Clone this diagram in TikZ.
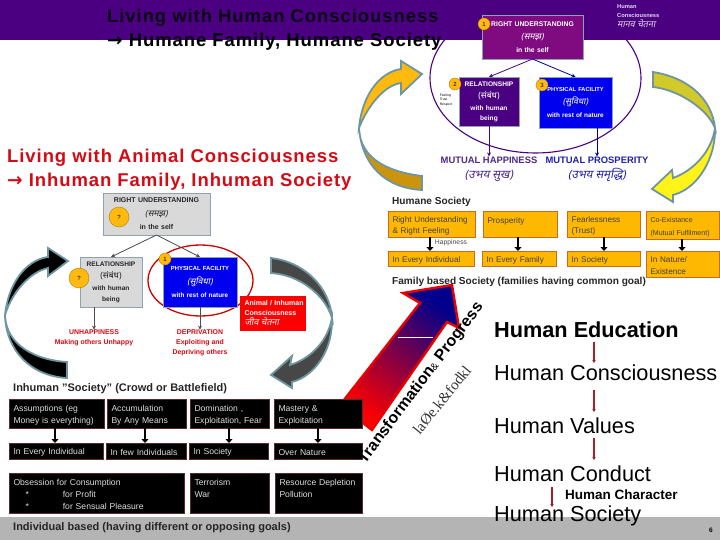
\documentclass[tikz,border=0pt]{standalone}
\usepackage{fontspec}
\setmainfont{Liberation Sans}
\newfontfamily\devafont[Script=Devanagari]{Noto Sans}
\newfontfamily\devaslant[Script=Devanagari,FakeSlant=0.2]{Noto Sans}
\newfontfamily\symfont{DejaVu Sans}
\newfontfamily\serifkr{Liberation Serif}
\usetikzlibrary{arrows.meta,shapes.geometric,calc}
\definecolor{barpurple}{HTML}{4B0082}
\definecolor{rubox}{HTML}{800A80}
\definecolor{physblue}{HTML}{0000EE}
\definecolor{slateedge}{HTML}{6E95A0}
\definecolor{titlered}{HTML}{D40A14}
\definecolor{amber}{HTML}{FFB800}
\definecolor{amberedge}{HTML}{C8682A}
\definecolor{badge}{HTML}{FFB90F}
\definecolor{grayface}{HTML}{D9D9D9}
\definecolor{grayedge}{HTML}{8FA3AE}
\definecolor{bandgray}{HTML}{B4B4B4}
\definecolor{textgray}{HTML}{DDDDDD}
\definecolor{blackedge}{HTML}{5A2A30}
\definecolor{conred}{HTML}{A81C2C}
\definecolor{mhpurple}{HTML}{4B2A8A}
\definecolor{mpblue}{HTML}{2020A8}
\newcommand{\dvs}[1]{{\fontsize{8.6}{11.5}\devaslant #1}}
\newcommand{\dvu}[1]{{\fontsize{8.6}{11.5}\devafont #1}}
\tikzset{
  boxbase/.style={rectangle,draw,line width=.8pt,inner xsep=4.5pt,inner ysep=0pt,outer sep=0pt},
  amberbox/.style={boxbase,fill=amber,draw=amberedge,text=black!75,align=left,font=\fontsize{8.2}{11.5}\selectfont,execute at begin node=\rule{0pt}{9.5pt}},
  blackbox/.style={boxbase,fill=black,draw=blackedge,text=textgray,align=left,font=\fontsize{8.6}{11.8}\selectfont,execute at begin node=\rule{0pt}{9.5pt}},
  colbox/.style={boxbase,draw=grayedge,text=white,align=center,font=\bfseries\fontsize{6.4}{13.2}\selectfont},
  graybox/.style={boxbase,fill=grayface,draw=grayedge,text=black!85,align=center,font=\bfseries\fontsize{6.4}{13.2}\selectfont},
  titletext/.style={anchor=west,inner sep=0pt,font=\bfseries\fontsize{18.5}{22}\selectfont\addfontfeatures{LetterSpace=5}},
  sectitle/.style={anchor=west,inner sep=0pt,font=\bfseries\fontsize{10.1}{12}\selectfont,text=black!85},
  sectitlewide/.style={anchor=west,inner sep=0pt,font=\bfseries\fontsize{11}{13}\selectfont,text=black!85},
  listtext/.style={anchor=west,inner sep=0pt,font=\fontsize{21.7}{26}\selectfont},
  redlabel/.style={inner sep=0pt,text=titlered,align=center,font=\bfseries\fontsize{6.9}{10}\selectfont},
  badgedot/.style={circle,fill=badge,draw=amber!70!black,line width=.4pt,inner sep=0pt,font=\fontsize{6}{6}\selectfont},
  sweep/.style={draw=slateedge,line width=1.8pt,line join=miter},
  thinlink/.style={line width=.8pt,-{Stealth[length=4pt,width=4pt]}},
  blocklink/.style={line width=2.4pt,black,-{Stealth[length=4pt,width=7pt,inset=0pt]}},
  redlink/.style={line width=1.3pt,conred,-{Stealth[length=3pt,width=3.5pt]}},
}
\newcommand{\labbox}[7]{%
  \pgfmathsetmacro{\bw}{#4-#2}\pgfmathsetmacro{\bh}{#5-#3}%
  \pgfmathsetmacro{\bcx}{(#2+#4)/2}\pgfmathsetmacro{\bcy}{(#3+#5)/2}%
  \pgfmathsetmacro{\btw}{\bw-9}%
  \node[#6,minimum width=\bw pt,minimum height=\bh pt,text width=\btw pt] (#1) at (\bcx,\bcy) {#7};}
\begin{document}
\begin{tikzpicture}[x=1pt,y=-1pt]
\useasboundingbox (0,0) rectangle (720,540);
\fill[white] (0,0) rectangle (720,540);
% upper ellipse sits behind the header bar
\node[ellipse,draw=barpurple,line width=1.1pt,minimum width=211pt,minimum height=150pt,inner sep=0pt] (humanring) at (535.5,78) {};
\fill[bandgray] (0,517) rectangle (720,540);
\fill[barpurple] (0,0) rectangle (720,40);
% titles
\node[titletext,text=black!85!barpurple] (t1) at (107,17.5) {Living with Human Consciousness};
\node[titletext] (t2) at (107,41.5) {{\symfont→} Humane Family, Humane Society};
\node[titletext,text=titlered] (t3) at (7,157.5) {Living with Animal Consciousness};
\node[titletext,text=titlered] (t4) at (7,181.5) {{\symfont→} Inhuman Family, Inhuman Society};
% header caption
\node[anchor=north west,inner sep=0pt,text=white!85!barpurple,align=left,font=\bfseries\fontsize{5.7}{9.6}\selectfont] (hc) at (617,4) {Human\\Consciousness\\{\fontsize{9}{11}\devaslant मानव चेतना}};
% curved arrows, upper pair
\path[sweep,fill=badge] (359,128) .. controls (362,95) and (380,72) .. (401,69) -- (401,61) -- (422,74) -- (401,94) -- (401,83) .. controls (385,85) and (368,105) .. (359,128) -- cycle;
\path[sweep,fill=badge!80!black] (359,128) .. controls (360,160) and (390,172) .. (422,176) -- (422,190) .. controls (385,188) and (362,165) .. (359,128) -- cycle;
\path[sweep,fill=yellow!80!black] (653,72) .. controls (690,78) and (712,100) .. (715,128) .. controls (708,110) and (680,90) .. (653,87) -- cycle;
\path[sweep,fill=yellow!90!white] (715,128) .. controls (716,155) and (700,188) .. (673,195) -- (673,202) -- (652,189) -- (672,170) -- (673,178) .. controls (695,170) and (712,150) .. (715,128) -- cycle;
% curved arrows, lower pair
\path[sweep,fill=black] (5,315) .. controls (8,285) and (25,260) .. (48,257) -- (48,248) -- (68,261) -- (48,276) -- (48,268) .. controls (30,272) and (12,292) .. (5,315) -- cycle;
\path[sweep,fill=black] (5,315) .. controls (6,345) and (35,360) .. (67,362) -- (67,378) .. controls (30,376) and (6,350) .. (5,315) -- cycle;
\path[sweep,fill=black!72] (271,258) .. controls (305,262) and (330,288) .. (332,318) .. controls (325,295) and (300,275) .. (271,273) -- cycle;
\path[sweep,fill=black!72] (332,318) .. controls (333,350) and (315,376) .. (292,382) -- (292,388) -- (271,375) -- (292,356) -- (290,365) .. controls (312,358) and (328,340) .. (332,318) -- cycle;
% big rising arrow
\shade[draw=red!92!black,line width=2.4pt,line join=miter,top color=blue!55!black,middle color=violet!80!red,bottom color=red,shading angle=-38] (403,293) -- (452,285) -- (459,328) -- (447,322) -- (372,430) -- (340,405) -- (420,303) -- cycle;
\draw[white,line width=.6pt] (398,337) -- (433,337);
% upper schema
\labbox{rua}{482}{15}{583}{59}{colbox,fill=rubox,font=\bfseries\fontsize{6.8}{13.2}\selectfont}{RIGHT UNDERSTANDING\\\dvs{(समझ)}\\in the self}
\labbox{rela}{459}{77}{519}{126}{colbox,fill=barpurple,font=\bfseries\fontsize{6.6}{12}\selectfont}{RELATIONSHIP\\\dvu{(संबंध)}\\with human\\[-2pt]being}
\labbox{phya}{539}{77}{612}{128}{colbox,fill=physblue}{{\fontsize{5.7}{13.5}\selectfont PHYSICAL FACILITY}\\\dvs{(सुविधा)}\\with rest of nature}
\node[badgedot,minimum size=12pt] (ba1) at (484,24) {1};
\node[badgedot,minimum size=12pt] (ba2) at (455,84) {2};
\node[badgedot,minimum size=12pt] (ba3) at (542,85) {3};
\node[inner sep=0pt,align=left,font=\fontsize{3.4}{4.4}\selectfont] (fe) at (446,100) {Feeling\\Trust\\Respect};
\node[inner sep=0pt,text=mhpurple,font=\bfseries\fontsize{9.4}{11}\selectfont] (mh) at (489,160) {MUTUAL HAPPINESS};
\node[inner sep=0pt,text=mpblue,font=\bfseries\fontsize{9.4}{11}\selectfont] (mp) at (597,160) {MUTUAL PROSPERITY};
\node[inner sep=0pt,text=mhpurple,font=\fontsize{11.5}{13}\devaslant] (mhh) at (489,176) {(उभय सुख)};
\node[inner sep=0pt,text=mpblue,font=\fontsize{11.5}{13}\devaslant] (mph) at (597,175) {(उभय समृद्धि)};
\draw[thinlink,barpurple] (rua.south) -- (rela.north);
\draw[thinlink,blue!60!black] (rua.south) -- (phya.north);
\draw[thinlink,barpurple] (rela.south) -- (mh.north);
\draw[thinlink,blue!60!black] (phya.south-|mp.north) -- (mp.north);
% humane society
\node[sectitle] (hs) at (392,202) {Humane Society};
\labbox{h1}{388}{211}{475}{237}{amberbox}{Right Understanding\\\& Right Feeling}
\labbox{h2}{483}{211}{557}{237}{amberbox}{Prosperity\\~}
\labbox{h3}{567}{211}{640}{237}{amberbox}{Fearlessness\\(Trust)}
\labbox{h4}{646}{211}{719}{239}{amberbox,font=\fontsize{7.1}{13}\selectfont,inner xsep=3pt}{Co-Existance\\\mbox{(Mutual Fulfilment)}}
\labbox{j1}{388}{251}{474}{266}{amberbox}{In Every Individual}
\labbox{j2}{482}{251}{556}{266}{amberbox}{In Every Family}
\labbox{j3}{567}{251}{640}{266}{amberbox}{In Society}
\labbox{j4}{646}{251}{719}{277}{amberbox}{In Nature/\\Existence}
\coordinate (ha) at (430,237); \coordinate (hb) at (430,251);
\coordinate (hc1) at (518,237); \coordinate (hc2) at (518,251);
\coordinate (hd1) at (604,237); \coordinate (hd2) at (604,251);
\coordinate (he1) at (682,239); \coordinate (he2) at (682,251);
\draw[blocklink] (ha) -- (hb);
\draw[blocklink] (hc1) -- (hc2);
\draw[blocklink] (hd1) -- (hd2);
\draw[blocklink] (he1) -- (he2);
\node[inner sep=0pt,text=black!70,font=\fontsize{6.8}{8}\selectfont] (hp) at (451,243) {Happiness};
\node[sectitle] (fb) at (392,282) {Family based Society (families having common goal)};
% lower schema
\labbox{rub}{103}{193}{210}{235}{graybox,font=\bfseries\fontsize{7}{13.5}\selectfont}{RIGHT UNDERSTANDING\\\dvs{(समझ)}\\in the self}
\labbox{relb}{80}{257}{142}{307}{graybox,font=\bfseries\fontsize{6.6}{12}\selectfont}{RELATIONSHIP\\\dvu{(संबंध)}\\with human\\[-1pt]being}
\node[ellipse,draw=red!80!black,line width=1.3pt,minimum width=105pt,minimum height=71pt,inner sep=0pt] (redring) at (200.5,280.5) {};
\labbox{phyb}{163}{257}{237}{307}{colbox,fill=physblue}{{\fontsize{5.9}{13.5}\selectfont PHYSICAL FACILITY}\\\dvs{(सुविधा)}\\with rest of nature}
\node[badgedot,minimum size=20pt] (bb1) at (119,217) {?};
\node[badgedot,minimum size=20pt] (bb2) at (79,278) {?};
\node[badgedot,minimum size=12pt] (bb3) at (165,259) {1};
\labbox{anim}{240}{296}{305}{330}{boxbase,inner xsep=2pt,fill=red,draw=red,text=white,align=left,font=\bfseries\fontsize{7}{10}\selectfont}{\mbox{Animal / Inhuman}\\Consciousness\\{\fontsize{9}{11}\devaslant जीव चेतना}}
\node[redlabel] (un) at (94,338) {UNHAPPINESS\\Making others Unhappy};
\node[redlabel] (de) at (200,343) {DEPRIVATION\\Exploiting and\\Depriving others};
\draw[thinlink,black!70] (rub.south) -- (relb.north);
\draw[thinlink,black!70] (rub.south) -- (phyb.north);
\draw[thinlink,black!70] (relb.south-|un.north) -- (un.north);
\draw[thinlink,black!70] (phyb.south) -- (de.north);
% inhuman society
\node[sectitlewide] (is) at (13,389) {Inhuman "Society" (Crowd or Battlefield)};
\labbox{a1}{9}{399}{104}{428}{blackbox}{Assumptions (eg\\Money is everything)}
\labbox{a2}{107}{399}{186}{428}{blackbox}{Accumulation\\By Any Means}
\labbox{a3}{190}{399}{269}{428}{blackbox}{Domination ,\\\mbox{Exploitation, Fear}}
\labbox{a4}{274}{399}{362}{428}{blackbox}{Mastery \&\\Exploitation}
\labbox{b1}{9}{443}{103}{459}{blackbox}{In Every Individual}
\labbox{b2}{106}{443}{186}{459}{blackbox}{\mbox{In few Individuals}}
\labbox{b3}{189}{443}{268}{459}{blackbox}{In Society}
\labbox{b4}{274}{443}{362}{459}{blackbox}{Over Nature}
\labbox{c1}{9}{473}{184}{513}{blackbox}{Obsession  for Consumption\\\hspace*{12pt}*\hspace{34pt}for Profit\\\hspace*{12pt}*\hspace{34pt}for Sensual Pleasure}
\labbox{c2}{190}{473}{269}{513}{blackbox}{Terrorism\\War\\~}
\labbox{c3}{275}{473}{362}{513}{blackbox}{\mbox{Resource Depletion}\\Pollution\\~}
\coordinate (ka1) at (55,428); \coordinate (ka2) at (55,443);
\coordinate (kb1) at (145,428); \coordinate (kb2) at (145,443);
\coordinate (kc1) at (229,428); \coordinate (kc2) at (229,443);
\coordinate (kd1) at (318,428); \coordinate (kd2) at (318,443);
\draw[blocklink] (ka1) -- (ka2);
\draw[blocklink] (kb1) -- (kb2);
\draw[blocklink] (kc1) -- (kc2);
\draw[blocklink] (kd1) -- (kd2);
\node[sectitlewide] (ib) at (13,528) {Individual based (having different or opposing goals)};
% rotated captions
\node[rotate=53,inner sep=0pt,font=\bfseries\fontsize{16}{18}\selectfont] (tp) at (421,383) {Transformation{\mdseries\fontsize{10}{12}\selectfont\&} Progress};
\node[rotate=51,inner sep=0pt,text=black!80,font=\serifkr\fontsize{15}{18}\selectfont] (kr) at (442,400) {laØe.k\&fodkl};
% right list
\node[listtext,font=\bfseries\fontsize{21.7}{26}\selectfont] (l1) at (494,330) {Human Education};
\node[listtext] (l2) at (494,373) {Human Consciousness};
\node[listtext] (l3) at (494,426) {Human Values};
\node[listtext] (l4) at (494,474) {Human Conduct};
\node[anchor=west,inner sep=0pt,font=\bfseries\fontsize{13.5}{16}\selectfont] (l5) at (565,495) {Human Character};
\node[listtext] (l6) at (494,516) {Human Society};
\coordinate (r1a) at (594,342); \coordinate (r1b) at (594,363);
\coordinate (r2a) at (594,390); \coordinate (r2b) at (594,412);
\coordinate (r3a) at (594,438); \coordinate (r3b) at (594,460);
\coordinate (r4a) at (552,487); \coordinate (r4b) at (552,507);
\draw[redlink] (r1a) -- (r1b);
\draw[redlink] (r2a) -- (r2b);
\draw[redlink] (r3a) -- (r3b);
\draw[redlink] (r4a) -- (r4b);
\node[inner sep=0pt,font=\bfseries\fontsize{6.5}{8}\selectfont] (pg) at (711,530) {6};
\end{tikzpicture}
\end{document}
